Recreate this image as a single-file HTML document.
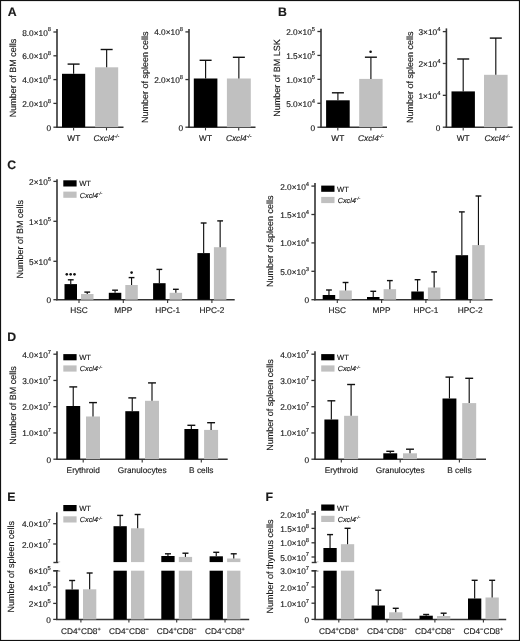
<!DOCTYPE html>
<html><head><meta charset="utf-8"><title>Figure</title>
<style>
html,body{margin:0;padding:0;background:#fff;}
body{width:520px;height:641px;overflow:hidden;}
svg{display:block;will-change:transform;}
text{font-family:"Liberation Sans", sans-serif;fill:#1a1a1a;stroke:#1a1a1a;stroke-width:0.15px;text-rendering:geometricPrecision;}
</style></head><body>
<svg width="520" height="641" viewBox="0 0 520 641">
<rect x="0" y="0" width="520" height="641" fill="#fff"/>
<text x="7.8" y="16" font-size="12.3" text-anchor="start" font-weight="bold">A</text>
<line x1="57" y1="29" x2="57" y2="127.8" stroke="#333" stroke-width="1.6"/>
<line x1="56.2" y1="127.2" x2="123.5" y2="127.2" stroke="#333" stroke-width="1.5"/>
<line x1="53.4" y1="32" x2="57" y2="32" stroke="#333" stroke-width="1.3"/>
<text x="51" y="35.5" font-size="8.3" text-anchor="end">8.0×10<tspan font-size="5.8" dy="-4.1">8</tspan></text>
<line x1="53.4" y1="55.8" x2="57" y2="55.8" stroke="#333" stroke-width="1.3"/>
<text x="51" y="59.3" font-size="8.3" text-anchor="end">6.0×10<tspan font-size="5.8" dy="-4.1">8</tspan></text>
<line x1="53.4" y1="79.6" x2="57" y2="79.6" stroke="#333" stroke-width="1.3"/>
<text x="51" y="83.1" font-size="8.3" text-anchor="end">4.0×10<tspan font-size="5.8" dy="-4.1">8</tspan></text>
<line x1="53.4" y1="103.4" x2="57" y2="103.4" stroke="#333" stroke-width="1.3"/>
<text x="51" y="106.9" font-size="8.3" text-anchor="end">2.0×10<tspan font-size="5.8" dy="-4.1">8</tspan></text>
<line x1="53.4" y1="127.2" x2="57" y2="127.2" stroke="#333" stroke-width="1.3"/>
<text x="51" y="130.7" font-size="8.3" text-anchor="end">0</text>
<line x1="73.6" y1="127.2" x2="73.6" y2="130.4" stroke="#333" stroke-width="1.1"/>
<line x1="106.5" y1="127.2" x2="106.5" y2="130.4" stroke="#333" stroke-width="1.1"/>
<rect x="62" y="73.8" width="23.2" height="53.4" fill="#000"/>
<line x1="73.6" y1="64.1" x2="73.6" y2="73.8" stroke="#111" stroke-width="1.15"/>
<line x1="67.6" y1="64.1" x2="79.6" y2="64.1" stroke="#111" stroke-width="1.4"/>
<rect x="95.1" y="67.3" width="23.1" height="59.9" fill="#c0c0c0"/>
<line x1="106.65" y1="49.5" x2="106.65" y2="67.3" stroke="#111" stroke-width="1.15"/>
<line x1="100.65" y1="49.5" x2="112.65" y2="49.5" stroke="#111" stroke-width="1.4"/>
<text x="73.8" y="140.8" font-size="8.3" text-anchor="middle">WT</text>
<text x="93.6" y="140.8" font-size="8.3" text-anchor="start"><tspan font-style="italic">Cxcl4</tspan><tspan font-style="italic" font-size="5.15" dy="-2.99">-/-</tspan></text>
<text transform="translate(15.7 78) rotate(-90)" x="0" y="0" font-size="9" text-anchor="middle">Number of BM cells</text>
<line x1="189" y1="29" x2="189" y2="127.8" stroke="#333" stroke-width="1.6"/>
<line x1="188.2" y1="127.2" x2="255.5" y2="127.2" stroke="#333" stroke-width="1.5"/>
<line x1="185.4" y1="31.9" x2="189" y2="31.9" stroke="#333" stroke-width="1.3"/>
<text x="183" y="35.4" font-size="8.3" text-anchor="end">4.0×10<tspan font-size="5.8" dy="-4.1">8</tspan></text>
<line x1="185.4" y1="79.55" x2="189" y2="79.55" stroke="#333" stroke-width="1.3"/>
<text x="183" y="83.05" font-size="8.3" text-anchor="end">2.0×10<tspan font-size="5.8" dy="-4.1">8</tspan></text>
<line x1="185.4" y1="127.2" x2="189" y2="127.2" stroke="#333" stroke-width="1.3"/>
<text x="183" y="130.7" font-size="8.3" text-anchor="end">0</text>
<line x1="205.5" y1="127.2" x2="205.5" y2="130.4" stroke="#333" stroke-width="1.1"/>
<line x1="238.7" y1="127.2" x2="238.7" y2="130.4" stroke="#333" stroke-width="1.1"/>
<rect x="193.8" y="78.5" width="23.6" height="48.7" fill="#000"/>
<line x1="205.6" y1="60.3" x2="205.6" y2="78.5" stroke="#111" stroke-width="1.15"/>
<line x1="199.6" y1="60.3" x2="211.6" y2="60.3" stroke="#111" stroke-width="1.4"/>
<rect x="226.9" y="78.5" width="23.9" height="48.7" fill="#c0c0c0"/>
<line x1="238.85" y1="57.3" x2="238.85" y2="78.5" stroke="#111" stroke-width="1.15"/>
<line x1="232.85" y1="57.3" x2="244.85" y2="57.3" stroke="#111" stroke-width="1.4"/>
<text x="205.5" y="140.8" font-size="8.3" text-anchor="middle">WT</text>
<text x="225.9" y="140.8" font-size="8.3" text-anchor="start"><tspan font-style="italic">Cxcl4</tspan><tspan font-style="italic" font-size="5.15" dy="-2.99">-/-</tspan></text>
<text transform="translate(148 77.3) rotate(-90)" x="0" y="0" font-size="9" text-anchor="middle">Number of spleen cells</text>
<text x="278" y="16" font-size="12.3" text-anchor="start" font-weight="bold">B</text>
<line x1="321" y1="28.8" x2="321" y2="127.8" stroke="#333" stroke-width="1.6"/>
<line x1="320.2" y1="127.2" x2="387" y2="127.2" stroke="#333" stroke-width="1.5"/>
<line x1="317.4" y1="31.5" x2="321" y2="31.5" stroke="#333" stroke-width="1.3"/>
<text x="315" y="35" font-size="8.3" text-anchor="end">2.0×10<tspan font-size="5.8" dy="-4.1">5</tspan></text>
<line x1="317.4" y1="55.42" x2="321" y2="55.42" stroke="#333" stroke-width="1.3"/>
<text x="315" y="58.92" font-size="8.3" text-anchor="end">1.5×10<tspan font-size="5.8" dy="-4.1">5</tspan></text>
<line x1="317.4" y1="79.35" x2="321" y2="79.35" stroke="#333" stroke-width="1.3"/>
<text x="315" y="82.85" font-size="8.3" text-anchor="end">1.0×10<tspan font-size="5.8" dy="-4.1">5</tspan></text>
<line x1="317.4" y1="103.28" x2="321" y2="103.28" stroke="#333" stroke-width="1.3"/>
<text x="315" y="106.78" font-size="8.3" text-anchor="end">5.0×10<tspan font-size="5.8" dy="-4.1">4</tspan></text>
<line x1="317.4" y1="127.2" x2="321" y2="127.2" stroke="#333" stroke-width="1.3"/>
<text x="315" y="130.7" font-size="8.3" text-anchor="end">0</text>
<line x1="337.8" y1="127.2" x2="337.8" y2="130.4" stroke="#333" stroke-width="1.1"/>
<line x1="370.9" y1="127.2" x2="370.9" y2="130.4" stroke="#333" stroke-width="1.1"/>
<rect x="326.1" y="100.3" width="23.6" height="26.9" fill="#000"/>
<line x1="337.9" y1="92.8" x2="337.9" y2="100.3" stroke="#111" stroke-width="1.15"/>
<line x1="331.9" y1="92.8" x2="343.9" y2="92.8" stroke="#111" stroke-width="1.4"/>
<rect x="359.2" y="78.9" width="23.4" height="48.3" fill="#c0c0c0"/>
<line x1="370.9" y1="57.2" x2="370.9" y2="78.9" stroke="#111" stroke-width="1.15"/>
<line x1="364.9" y1="57.2" x2="376.9" y2="57.2" stroke="#111" stroke-width="1.4"/>
<text x="337.8" y="140.8" font-size="8.3" text-anchor="middle">WT</text>
<text x="358" y="140.8" font-size="8.3" text-anchor="start"><tspan font-style="italic">Cxcl4</tspan><tspan font-style="italic" font-size="5.15" dy="-2.99">-/-</tspan></text>
<circle cx="370.6" cy="51.8" r="1.3" fill="#111"/>
<text transform="translate(280.3 77.9) rotate(-90)" x="0" y="0" font-size="9" text-anchor="middle">Number of BM LSK</text>
<line x1="446.4" y1="28.4" x2="446.4" y2="127.8" stroke="#333" stroke-width="1.6"/>
<line x1="445.6" y1="127.2" x2="512.6" y2="127.2" stroke="#333" stroke-width="1.5"/>
<line x1="442.8" y1="31.6" x2="446.4" y2="31.6" stroke="#333" stroke-width="1.3"/>
<text x="440.4" y="35.1" font-size="8.3" text-anchor="end">3×10<tspan font-size="5.8" dy="-4.1">4</tspan></text>
<line x1="442.8" y1="63.47" x2="446.4" y2="63.47" stroke="#333" stroke-width="1.3"/>
<text x="440.4" y="66.97" font-size="8.3" text-anchor="end">2×10<tspan font-size="5.8" dy="-4.1">4</tspan></text>
<line x1="442.8" y1="95.33" x2="446.4" y2="95.33" stroke="#333" stroke-width="1.3"/>
<text x="440.4" y="98.83" font-size="8.3" text-anchor="end">1×10<tspan font-size="5.8" dy="-4.1">4</tspan></text>
<line x1="442.8" y1="127.2" x2="446.4" y2="127.2" stroke="#333" stroke-width="1.3"/>
<text x="440.4" y="130.7" font-size="8.3" text-anchor="end">0</text>
<line x1="463.2" y1="127.2" x2="463.2" y2="130.4" stroke="#333" stroke-width="1.1"/>
<line x1="495.8" y1="127.2" x2="495.8" y2="130.4" stroke="#333" stroke-width="1.1"/>
<rect x="451.5" y="91.4" width="23.4" height="35.8" fill="#000"/>
<line x1="463.2" y1="59" x2="463.2" y2="91.4" stroke="#111" stroke-width="1.15"/>
<line x1="457.2" y1="59" x2="469.2" y2="59" stroke="#111" stroke-width="1.4"/>
<rect x="484" y="74.8" width="23.6" height="52.4" fill="#c0c0c0"/>
<line x1="495.8" y1="38.1" x2="495.8" y2="74.8" stroke="#111" stroke-width="1.15"/>
<line x1="489.8" y1="38.1" x2="501.8" y2="38.1" stroke="#111" stroke-width="1.4"/>
<text x="463.2" y="140.8" font-size="8.3" text-anchor="middle">WT</text>
<text x="484.4" y="140.8" font-size="8.3" text-anchor="start"><tspan font-style="italic">Cxcl4</tspan><tspan font-style="italic" font-size="5.15" dy="-2.99">-/-</tspan></text>
<text transform="translate(412.6 77.2) rotate(-90)" x="0" y="0" font-size="9" text-anchor="middle">Number of spleen cells</text>
<text x="7.2" y="168.8" font-size="12.3" text-anchor="start" font-weight="bold">C</text>
<line x1="57" y1="179.2" x2="57" y2="300.3" stroke="#333" stroke-width="1.6"/>
<line x1="56.2" y1="299.7" x2="234.7" y2="299.7" stroke="#333" stroke-width="1.5"/>
<line x1="53.4" y1="181.4" x2="57" y2="181.4" stroke="#333" stroke-width="1.3"/>
<text x="51" y="184.9" font-size="8.3" text-anchor="end">2×10<tspan font-size="5.8" dy="-4.1">5</tspan></text>
<line x1="53.4" y1="221.3" x2="57" y2="221.3" stroke="#333" stroke-width="1.3"/>
<text x="51" y="224.8" font-size="8.3" text-anchor="end">1×10<tspan font-size="5.8" dy="-4.1">5</tspan></text>
<line x1="53.4" y1="261.3" x2="57" y2="261.3" stroke="#333" stroke-width="1.3"/>
<text x="51" y="264.8" font-size="8.3" text-anchor="end">5×10<tspan font-size="5.8" dy="-4.1">4</tspan></text>
<line x1="53.4" y1="299.7" x2="57" y2="299.7" stroke="#333" stroke-width="1.3"/>
<text x="51" y="303.2" font-size="8.3" text-anchor="end">0</text>
<line x1="79" y1="299.7" x2="79" y2="302.9" stroke="#333" stroke-width="1.1"/>
<line x1="123.3" y1="299.7" x2="123.3" y2="302.9" stroke="#333" stroke-width="1.1"/>
<line x1="167.6" y1="299.7" x2="167.6" y2="302.9" stroke="#333" stroke-width="1.1"/>
<line x1="211.9" y1="299.7" x2="211.9" y2="302.9" stroke="#333" stroke-width="1.1"/>
<rect x="64.5" y="284.1" width="12.5" height="15.6" fill="#000"/>
<line x1="70.75" y1="279.8" x2="70.75" y2="284.1" stroke="#111" stroke-width="1.15"/>
<line x1="67.85" y1="279.8" x2="73.65" y2="279.8" stroke="#111" stroke-width="1.4"/>
<rect x="81" y="294" width="12.5" height="5.7" fill="#c0c0c0"/>
<line x1="87.25" y1="292.1" x2="87.25" y2="294" stroke="#111" stroke-width="1.15"/>
<line x1="84.35" y1="292.1" x2="90.15" y2="292.1" stroke="#111" stroke-width="1.4"/>
<rect x="108.8" y="292.8" width="12.5" height="6.9" fill="#000"/>
<line x1="115.05" y1="290.2" x2="115.05" y2="292.8" stroke="#111" stroke-width="1.15"/>
<line x1="112.15" y1="290.2" x2="117.95" y2="290.2" stroke="#111" stroke-width="1.4"/>
<rect x="125.3" y="285" width="12.5" height="14.7" fill="#c0c0c0"/>
<line x1="131.55" y1="277.6" x2="131.55" y2="285" stroke="#111" stroke-width="1.15"/>
<line x1="128.65" y1="277.6" x2="134.45" y2="277.6" stroke="#111" stroke-width="1.4"/>
<rect x="153.1" y="283.2" width="12.5" height="16.5" fill="#000"/>
<line x1="159.35" y1="269.4" x2="159.35" y2="283.2" stroke="#111" stroke-width="1.15"/>
<line x1="156.45" y1="269.4" x2="162.25" y2="269.4" stroke="#111" stroke-width="1.4"/>
<rect x="169.6" y="292.8" width="12.5" height="6.9" fill="#c0c0c0"/>
<line x1="175.85" y1="289.3" x2="175.85" y2="292.8" stroke="#111" stroke-width="1.15"/>
<line x1="172.95" y1="289.3" x2="178.75" y2="289.3" stroke="#111" stroke-width="1.4"/>
<rect x="197.4" y="253.1" width="12.5" height="46.6" fill="#000"/>
<line x1="203.65" y1="223" x2="203.65" y2="253.1" stroke="#111" stroke-width="1.15"/>
<line x1="200.75" y1="223" x2="206.55" y2="223" stroke="#111" stroke-width="1.4"/>
<rect x="213.9" y="247.2" width="12.5" height="52.5" fill="#c0c0c0"/>
<line x1="220.15" y1="220.9" x2="220.15" y2="247.2" stroke="#111" stroke-width="1.15"/>
<line x1="217.25" y1="220.9" x2="223.05" y2="220.9" stroke="#111" stroke-width="1.4"/>
<text x="79" y="313.4" font-size="8.3" text-anchor="middle">HSC</text>
<text x="123.3" y="313.4" font-size="8.3" text-anchor="middle">MPP</text>
<text x="167.6" y="313.4" font-size="8.3" text-anchor="middle">HPC-1</text>
<text x="211.9" y="313.4" font-size="8.3" text-anchor="middle">HPC-2</text>
<circle cx="66.8" cy="274.35" r="1.3" fill="#111"/>
<circle cx="70.65" cy="274.35" r="1.3" fill="#111"/>
<circle cx="74.5" cy="274.35" r="1.3" fill="#111"/>
<circle cx="131.6" cy="272.6" r="1.3" fill="#111"/>
<rect x="63.3" y="180.3" width="13.3" height="6.2" fill="#000"/>
<text x="79.2" y="186.3" font-size="7.6" text-anchor="start">WT</text>
<rect x="63.3" y="191.6" width="13.3" height="6.2" fill="#c0c0c0"/>
<text x="79.8" y="197.6" font-size="7.3" text-anchor="start"><tspan font-style="italic">Cxcl4</tspan><tspan font-style="italic" font-size="4.53" dy="-2.63">-/-</tspan></text>
<text transform="translate(23 239.2) rotate(-90)" x="0" y="0" font-size="9" text-anchor="middle">Number of BM cells</text>
<line x1="315" y1="183.1" x2="315" y2="300.3" stroke="#333" stroke-width="1.6"/>
<line x1="314.2" y1="299.7" x2="492.6" y2="299.7" stroke="#333" stroke-width="1.5"/>
<line x1="311.4" y1="186.1" x2="315" y2="186.1" stroke="#333" stroke-width="1.3"/>
<text x="309" y="189.6" font-size="8.3" text-anchor="end">2.0×10<tspan font-size="5.8" dy="-4.1">4</tspan></text>
<line x1="311.4" y1="214.5" x2="315" y2="214.5" stroke="#333" stroke-width="1.3"/>
<text x="309" y="218" font-size="8.3" text-anchor="end">1.5×10<tspan font-size="5.8" dy="-4.1">4</tspan></text>
<line x1="311.4" y1="242.9" x2="315" y2="242.9" stroke="#333" stroke-width="1.3"/>
<text x="309" y="246.4" font-size="8.3" text-anchor="end">1.0×10<tspan font-size="5.8" dy="-4.1">4</tspan></text>
<line x1="311.4" y1="271.3" x2="315" y2="271.3" stroke="#333" stroke-width="1.3"/>
<text x="309" y="274.8" font-size="8.3" text-anchor="end">5.0×10<tspan font-size="5.8" dy="-4.1">3</tspan></text>
<line x1="311.4" y1="299.7" x2="315" y2="299.7" stroke="#333" stroke-width="1.3"/>
<text x="309" y="303.2" font-size="8.3" text-anchor="end">0</text>
<line x1="337.3" y1="299.7" x2="337.3" y2="302.9" stroke="#333" stroke-width="1.1"/>
<line x1="381.6" y1="299.7" x2="381.6" y2="302.9" stroke="#333" stroke-width="1.1"/>
<line x1="425.9" y1="299.7" x2="425.9" y2="302.9" stroke="#333" stroke-width="1.1"/>
<line x1="470.2" y1="299.7" x2="470.2" y2="302.9" stroke="#333" stroke-width="1.1"/>
<rect x="322.7" y="295" width="12.5" height="4.7" fill="#000"/>
<line x1="328.95" y1="290" x2="328.95" y2="295" stroke="#111" stroke-width="1.15"/>
<line x1="326.05" y1="290" x2="331.85" y2="290" stroke="#111" stroke-width="1.4"/>
<rect x="339.3" y="290.5" width="12.5" height="9.2" fill="#c0c0c0"/>
<line x1="345.55" y1="282.5" x2="345.55" y2="290.5" stroke="#111" stroke-width="1.15"/>
<line x1="342.65" y1="282.5" x2="348.45" y2="282.5" stroke="#111" stroke-width="1.4"/>
<rect x="367" y="297" width="12.5" height="2.7" fill="#000"/>
<line x1="373.25" y1="291.3" x2="373.25" y2="297" stroke="#111" stroke-width="1.15"/>
<line x1="370.35" y1="291.3" x2="376.15" y2="291.3" stroke="#111" stroke-width="1.4"/>
<rect x="383.6" y="289.2" width="12.5" height="10.5" fill="#c0c0c0"/>
<line x1="389.85" y1="280.6" x2="389.85" y2="289.2" stroke="#111" stroke-width="1.15"/>
<line x1="386.95" y1="280.6" x2="392.75" y2="280.6" stroke="#111" stroke-width="1.4"/>
<rect x="411.3" y="291.5" width="12.5" height="8.2" fill="#000"/>
<line x1="417.55" y1="279.7" x2="417.55" y2="291.5" stroke="#111" stroke-width="1.15"/>
<line x1="414.65" y1="279.7" x2="420.45" y2="279.7" stroke="#111" stroke-width="1.4"/>
<rect x="427.9" y="287.5" width="12.5" height="12.2" fill="#c0c0c0"/>
<line x1="434.15" y1="271.9" x2="434.15" y2="287.5" stroke="#111" stroke-width="1.15"/>
<line x1="431.25" y1="271.9" x2="437.05" y2="271.9" stroke="#111" stroke-width="1.4"/>
<rect x="455.6" y="255.2" width="12.5" height="44.5" fill="#000"/>
<line x1="461.85" y1="211.9" x2="461.85" y2="255.2" stroke="#111" stroke-width="1.15"/>
<line x1="458.95" y1="211.9" x2="464.75" y2="211.9" stroke="#111" stroke-width="1.4"/>
<rect x="472.2" y="245.1" width="12.5" height="54.6" fill="#c0c0c0"/>
<line x1="478.45" y1="196" x2="478.45" y2="245.1" stroke="#111" stroke-width="1.15"/>
<line x1="475.55" y1="196" x2="481.35" y2="196" stroke="#111" stroke-width="1.4"/>
<text x="337.3" y="313.4" font-size="8.3" text-anchor="middle">HSC</text>
<text x="381.6" y="313.4" font-size="8.3" text-anchor="middle">MPP</text>
<text x="425.9" y="313.4" font-size="8.3" text-anchor="middle">HPC-1</text>
<text x="470.2" y="313.4" font-size="8.3" text-anchor="middle">HPC-2</text>
<rect x="321.2" y="185.6" width="13.3" height="6.2" fill="#000"/>
<text x="337.1" y="191.6" font-size="7.6" text-anchor="start">WT</text>
<rect x="321.2" y="196.9" width="13.3" height="6.2" fill="#c0c0c0"/>
<text x="337.7" y="202.9" font-size="7.3" text-anchor="start"><tspan font-style="italic">Cxcl4</tspan><tspan font-style="italic" font-size="4.53" dy="-2.63">-/-</tspan></text>
<text transform="translate(273 241.2) rotate(-90)" x="0" y="0" font-size="9" text-anchor="middle">Number of spleen cells</text>
<text x="7.3" y="341.2" font-size="12.3" text-anchor="start" font-weight="bold">D</text>
<line x1="57" y1="351.2" x2="57" y2="459.8" stroke="#333" stroke-width="1.6"/>
<line x1="56.2" y1="459.2" x2="227.7" y2="459.2" stroke="#333" stroke-width="1.5"/>
<line x1="53.4" y1="354.2" x2="57" y2="354.2" stroke="#333" stroke-width="1.3"/>
<text x="51" y="357.7" font-size="8.3" text-anchor="end">4.0×10<tspan font-size="5.8" dy="-4.1">7</tspan></text>
<line x1="53.4" y1="380.45" x2="57" y2="380.45" stroke="#333" stroke-width="1.3"/>
<text x="51" y="383.95" font-size="8.3" text-anchor="end">3.0×10<tspan font-size="5.8" dy="-4.1">7</tspan></text>
<line x1="53.4" y1="406.7" x2="57" y2="406.7" stroke="#333" stroke-width="1.3"/>
<text x="51" y="410.2" font-size="8.3" text-anchor="end">2.0×10<tspan font-size="5.8" dy="-4.1">7</tspan></text>
<line x1="53.4" y1="432.95" x2="57" y2="432.95" stroke="#333" stroke-width="1.3"/>
<text x="51" y="436.45" font-size="8.3" text-anchor="end">1.0×10<tspan font-size="5.8" dy="-4.1">7</tspan></text>
<line x1="53.4" y1="459.2" x2="57" y2="459.2" stroke="#333" stroke-width="1.3"/>
<text x="51" y="462.7" font-size="8.3" text-anchor="end">0</text>
<line x1="83.2" y1="459.2" x2="83.2" y2="462.4" stroke="#333" stroke-width="1.1"/>
<line x1="142.2" y1="459.2" x2="142.2" y2="462.4" stroke="#333" stroke-width="1.1"/>
<line x1="201.3" y1="459.2" x2="201.3" y2="462.4" stroke="#333" stroke-width="1.1"/>
<rect x="66.3" y="406" width="13.9" height="53.2" fill="#000"/>
<line x1="73.25" y1="386.9" x2="73.25" y2="406" stroke="#111" stroke-width="1.15"/>
<line x1="69.3" y1="386.9" x2="77.2" y2="386.9" stroke="#111" stroke-width="1.4"/>
<rect x="86" y="416.5" width="14" height="42.7" fill="#c0c0c0"/>
<line x1="93" y1="402.6" x2="93" y2="416.5" stroke="#111" stroke-width="1.15"/>
<line x1="89.05" y1="402.6" x2="96.95" y2="402.6" stroke="#111" stroke-width="1.4"/>
<rect x="125.3" y="411.2" width="13.9" height="48" fill="#000"/>
<line x1="132.25" y1="397.9" x2="132.25" y2="411.2" stroke="#111" stroke-width="1.15"/>
<line x1="128.3" y1="397.9" x2="136.2" y2="397.9" stroke="#111" stroke-width="1.4"/>
<rect x="145" y="400.8" width="14" height="58.4" fill="#c0c0c0"/>
<line x1="152" y1="382.9" x2="152" y2="400.8" stroke="#111" stroke-width="1.15"/>
<line x1="148.05" y1="382.9" x2="155.95" y2="382.9" stroke="#111" stroke-width="1.4"/>
<rect x="184.4" y="429" width="13.9" height="30.2" fill="#000"/>
<line x1="191.35" y1="425.3" x2="191.35" y2="429" stroke="#111" stroke-width="1.15"/>
<line x1="187.4" y1="425.3" x2="195.3" y2="425.3" stroke="#111" stroke-width="1.4"/>
<rect x="204.1" y="429.9" width="14" height="29.3" fill="#c0c0c0"/>
<line x1="211.1" y1="422.7" x2="211.1" y2="429.9" stroke="#111" stroke-width="1.15"/>
<line x1="207.15" y1="422.7" x2="215.05" y2="422.7" stroke="#111" stroke-width="1.4"/>
<text x="83.2" y="473.2" font-size="8.3" text-anchor="middle">Erythroid</text>
<text x="142.2" y="473.2" font-size="8.3" text-anchor="middle">Granulocytes</text>
<text x="201.3" y="473.2" font-size="8.3" text-anchor="middle">B cells</text>
<rect x="63.3" y="354.1" width="13.3" height="6.2" fill="#000"/>
<text x="79.2" y="360.1" font-size="7.6" text-anchor="start">WT</text>
<rect x="63.3" y="365.4" width="13.3" height="6.2" fill="#c0c0c0"/>
<text x="79.8" y="371.4" font-size="7.3" text-anchor="start"><tspan font-style="italic">Cxcl4</tspan><tspan font-style="italic" font-size="4.53" dy="-2.63">-/-</tspan></text>
<text transform="translate(15.5 405.5) rotate(-90)" x="0" y="0" font-size="9" text-anchor="middle">Number of BM cells</text>
<line x1="315" y1="351.2" x2="315" y2="459.8" stroke="#333" stroke-width="1.6"/>
<line x1="314.2" y1="459.2" x2="486" y2="459.2" stroke="#333" stroke-width="1.5"/>
<line x1="311.4" y1="354.2" x2="315" y2="354.2" stroke="#333" stroke-width="1.3"/>
<text x="309" y="357.7" font-size="8.3" text-anchor="end">4.0×10<tspan font-size="5.8" dy="-4.1">7</tspan></text>
<line x1="311.4" y1="380.45" x2="315" y2="380.45" stroke="#333" stroke-width="1.3"/>
<text x="309" y="383.95" font-size="8.3" text-anchor="end">3.0×10<tspan font-size="5.8" dy="-4.1">7</tspan></text>
<line x1="311.4" y1="406.7" x2="315" y2="406.7" stroke="#333" stroke-width="1.3"/>
<text x="309" y="410.2" font-size="8.3" text-anchor="end">2.0×10<tspan font-size="5.8" dy="-4.1">7</tspan></text>
<line x1="311.4" y1="432.95" x2="315" y2="432.95" stroke="#333" stroke-width="1.3"/>
<text x="309" y="436.45" font-size="8.3" text-anchor="end">1.0×10<tspan font-size="5.8" dy="-4.1">7</tspan></text>
<line x1="311.4" y1="459.2" x2="315" y2="459.2" stroke="#333" stroke-width="1.3"/>
<text x="309" y="462.7" font-size="8.3" text-anchor="end">0</text>
<line x1="341.3" y1="459.2" x2="341.3" y2="462.4" stroke="#333" stroke-width="1.1"/>
<line x1="400.2" y1="459.2" x2="400.2" y2="462.4" stroke="#333" stroke-width="1.1"/>
<line x1="459.4" y1="459.2" x2="459.4" y2="462.4" stroke="#333" stroke-width="1.1"/>
<rect x="324.4" y="419.5" width="13.9" height="39.7" fill="#000"/>
<line x1="331.35" y1="400.8" x2="331.35" y2="419.5" stroke="#111" stroke-width="1.15"/>
<line x1="327.4" y1="400.8" x2="335.3" y2="400.8" stroke="#111" stroke-width="1.4"/>
<rect x="344.1" y="415.8" width="14" height="43.4" fill="#c0c0c0"/>
<line x1="351.1" y1="384.5" x2="351.1" y2="415.8" stroke="#111" stroke-width="1.15"/>
<line x1="347.15" y1="384.5" x2="355.05" y2="384.5" stroke="#111" stroke-width="1.4"/>
<rect x="383.3" y="453.3" width="13.9" height="5.9" fill="#000"/>
<line x1="390.25" y1="451.3" x2="390.25" y2="453.3" stroke="#111" stroke-width="1.15"/>
<line x1="386.3" y1="451.3" x2="394.2" y2="451.3" stroke="#111" stroke-width="1.4"/>
<rect x="403" y="453.3" width="14" height="5.9" fill="#c0c0c0"/>
<line x1="410" y1="449.2" x2="410" y2="453.3" stroke="#111" stroke-width="1.15"/>
<line x1="406.05" y1="449.2" x2="413.95" y2="449.2" stroke="#111" stroke-width="1.4"/>
<rect x="442.5" y="398.5" width="13.9" height="60.7" fill="#000"/>
<line x1="449.45" y1="377.1" x2="449.45" y2="398.5" stroke="#111" stroke-width="1.15"/>
<line x1="445.5" y1="377.1" x2="453.4" y2="377.1" stroke="#111" stroke-width="1.4"/>
<rect x="462.2" y="403.1" width="14" height="56.1" fill="#c0c0c0"/>
<line x1="469.2" y1="378.3" x2="469.2" y2="403.1" stroke="#111" stroke-width="1.15"/>
<line x1="465.25" y1="378.3" x2="473.15" y2="378.3" stroke="#111" stroke-width="1.4"/>
<text x="341.3" y="473.2" font-size="8.3" text-anchor="middle">Erythroid</text>
<text x="400.2" y="473.2" font-size="8.3" text-anchor="middle">Granulocytes</text>
<text x="459.4" y="473.2" font-size="8.3" text-anchor="middle">B cells</text>
<rect x="321.2" y="354.1" width="13.3" height="6.2" fill="#000"/>
<text x="337.1" y="360.1" font-size="7.6" text-anchor="start">WT</text>
<rect x="321.2" y="365.4" width="13.3" height="6.2" fill="#c0c0c0"/>
<text x="337.7" y="371.4" font-size="7.3" text-anchor="start"><tspan font-style="italic">Cxcl4</tspan><tspan font-style="italic" font-size="4.53" dy="-2.63">-/-</tspan></text>
<text transform="translate(272.6 405) rotate(-90)" x="0" y="0" font-size="9" text-anchor="middle">Number of spleen cells</text>
<text x="7.3" y="501" font-size="12.3" text-anchor="start" font-weight="bold">E</text>
<line x1="56.8" y1="512.2" x2="56.8" y2="562.5" stroke="#333" stroke-width="1.6"/>
<line x1="56.8" y1="570.7" x2="56.8" y2="620" stroke="#333" stroke-width="1.6"/>
<line x1="56" y1="619.4" x2="249.2" y2="619.4" stroke="#333" stroke-width="1.5"/>
<line x1="53.2" y1="523.7" x2="56.8" y2="523.7" stroke="#333" stroke-width="1.3"/>
<text x="50.8" y="527.2" font-size="8.3" text-anchor="end">4.0×10<tspan font-size="5.8" dy="-4.1">7</tspan></text>
<line x1="53.2" y1="544" x2="56.8" y2="544" stroke="#333" stroke-width="1.3"/>
<text x="50.8" y="547.5" font-size="8.3" text-anchor="end">2.0×10<tspan font-size="5.8" dy="-4.1">7</tspan></text>
<line x1="53.2" y1="570.9" x2="56.8" y2="570.9" stroke="#333" stroke-width="1.3"/>
<text x="50.8" y="574.4" font-size="8.3" text-anchor="end">6×10<tspan font-size="5.8" dy="-4.1">5</tspan></text>
<line x1="53.2" y1="587" x2="56.8" y2="587" stroke="#333" stroke-width="1.3"/>
<text x="50.8" y="590.5" font-size="8.3" text-anchor="end">4×10<tspan font-size="5.8" dy="-4.1">5</tspan></text>
<line x1="53.2" y1="603.4" x2="56.8" y2="603.4" stroke="#333" stroke-width="1.3"/>
<text x="50.8" y="606.9" font-size="8.3" text-anchor="end">2×10<tspan font-size="5.8" dy="-4.1">5</tspan></text>
<line x1="53.2" y1="619.4" x2="56.8" y2="619.4" stroke="#333" stroke-width="1.3"/>
<text x="50.8" y="622.9" font-size="8.3" text-anchor="end">0</text>
<line x1="80.9" y1="619.4" x2="80.9" y2="622.6" stroke="#333" stroke-width="1.1"/>
<line x1="128.9" y1="619.4" x2="128.9" y2="622.6" stroke="#333" stroke-width="1.1"/>
<line x1="176.7" y1="619.4" x2="176.7" y2="622.6" stroke="#333" stroke-width="1.1"/>
<line x1="225" y1="619.4" x2="225" y2="622.6" stroke="#333" stroke-width="1.1"/>
<line x1="53.4" y1="562.5" x2="60.2" y2="562.5" stroke="#333" stroke-width="1.4"/>
<line x1="53.4" y1="570.7" x2="60.2" y2="570.7" stroke="#333" stroke-width="1.4"/>
<rect x="65.5" y="589.5" width="13.3" height="29.9" fill="#000"/>
<line x1="72.15" y1="580.5" x2="72.15" y2="589.5" stroke="#111" stroke-width="1.15"/>
<line x1="69.15" y1="580.5" x2="75.15" y2="580.5" stroke="#111" stroke-width="1.4"/>
<rect x="83" y="589.3" width="13.3" height="30.1" fill="#c0c0c0"/>
<line x1="89.65" y1="573" x2="89.65" y2="589.3" stroke="#111" stroke-width="1.15"/>
<line x1="86.65" y1="573" x2="92.65" y2="573" stroke="#111" stroke-width="1.4"/>
<rect x="113.5" y="526.2" width="13.3" height="93.2" fill="#000"/>
<line x1="120.15" y1="515.4" x2="120.15" y2="526.2" stroke="#111" stroke-width="1.15"/>
<line x1="117.15" y1="515.4" x2="123.15" y2="515.4" stroke="#111" stroke-width="1.4"/>
<rect x="131" y="528.3" width="13.3" height="91.1" fill="#c0c0c0"/>
<line x1="137.65" y1="514.5" x2="137.65" y2="528.3" stroke="#111" stroke-width="1.15"/>
<line x1="134.65" y1="514.5" x2="140.65" y2="514.5" stroke="#111" stroke-width="1.4"/>
<rect x="161.3" y="556" width="13.3" height="63.4" fill="#000"/>
<line x1="167.95" y1="553.8" x2="167.95" y2="556" stroke="#111" stroke-width="1.15"/>
<line x1="164.95" y1="553.8" x2="170.95" y2="553.8" stroke="#111" stroke-width="1.4"/>
<rect x="178.8" y="556.9" width="13.3" height="62.5" fill="#c0c0c0"/>
<line x1="185.45" y1="553.2" x2="185.45" y2="556.9" stroke="#111" stroke-width="1.15"/>
<line x1="182.45" y1="553.2" x2="188.45" y2="553.2" stroke="#111" stroke-width="1.4"/>
<rect x="209.6" y="556.3" width="13.3" height="63.1" fill="#000"/>
<line x1="216.25" y1="552.3" x2="216.25" y2="556.3" stroke="#111" stroke-width="1.15"/>
<line x1="213.25" y1="552.3" x2="219.25" y2="552.3" stroke="#111" stroke-width="1.4"/>
<rect x="227.1" y="558.5" width="13.3" height="60.9" fill="#c0c0c0"/>
<line x1="233.75" y1="553.8" x2="233.75" y2="558.5" stroke="#111" stroke-width="1.15"/>
<line x1="230.75" y1="553.8" x2="236.75" y2="553.8" stroke="#111" stroke-width="1.4"/>
<rect x="58.3" y="562.1" width="192.4" height="8.6" fill="#fff"/>
<text x="80.9" y="633.6" font-size="8.3" text-anchor="middle">CD4<tspan font-size="5.6" dy="-2.9">+</tspan><tspan dy="2.9">CD8</tspan><tspan font-size="5.6" dy="-2.9">+</tspan></text>
<text x="128.9" y="633.6" font-size="8.3" text-anchor="middle">CD4<tspan font-size="5.6" dy="-2.9">−</tspan><tspan dy="2.9">CD8</tspan><tspan font-size="5.6" dy="-2.9">−</tspan></text>
<text x="176.7" y="633.6" font-size="8.3" text-anchor="middle">CD4<tspan font-size="5.6" dy="-2.9">+</tspan><tspan dy="2.9">CD8</tspan><tspan font-size="5.6" dy="-2.9">−</tspan></text>
<text x="225" y="633.6" font-size="8.3" text-anchor="middle">CD4<tspan font-size="5.6" dy="-2.9">−</tspan><tspan dy="2.9">CD8</tspan><tspan font-size="5.6" dy="-2.9">+</tspan></text>
<rect x="63.3" y="505" width="13.3" height="6.2" fill="#000"/>
<text x="79.2" y="511" font-size="7.6" text-anchor="start">WT</text>
<rect x="63.3" y="516.3" width="13.3" height="6.2" fill="#c0c0c0"/>
<text x="79.8" y="522.3" font-size="7.3" text-anchor="start"><tspan font-style="italic">Cxcl4</tspan><tspan font-style="italic" font-size="4.53" dy="-2.63">-/-</tspan></text>
<text transform="translate(14.2 566.7) rotate(-90)" x="0" y="0" font-size="9" text-anchor="middle">Number of spleen cells</text>
<text x="265.4" y="501" font-size="12.3" text-anchor="start" font-weight="bold">F</text>
<line x1="315.1" y1="511.1" x2="315.1" y2="562.5" stroke="#333" stroke-width="1.6"/>
<line x1="315.1" y1="570.7" x2="315.1" y2="620" stroke="#333" stroke-width="1.6"/>
<line x1="314.3" y1="619.4" x2="506.2" y2="619.4" stroke="#333" stroke-width="1.5"/>
<line x1="311.5" y1="514" x2="315.1" y2="514" stroke="#333" stroke-width="1.3"/>
<text x="309.1" y="517.5" font-size="8.3" text-anchor="end">2.0×10<tspan font-size="5.8" dy="-4.1">8</tspan></text>
<line x1="311.5" y1="528.4" x2="315.1" y2="528.4" stroke="#333" stroke-width="1.3"/>
<text x="309.1" y="531.9" font-size="8.3" text-anchor="end">1.5×10<tspan font-size="5.8" dy="-4.1">8</tspan></text>
<line x1="311.5" y1="542.8" x2="315.1" y2="542.8" stroke="#333" stroke-width="1.3"/>
<text x="309.1" y="546.3" font-size="8.3" text-anchor="end">1.0×10<tspan font-size="5.8" dy="-4.1">8</tspan></text>
<line x1="311.5" y1="557" x2="315.1" y2="557" stroke="#333" stroke-width="1.3"/>
<text x="309.1" y="560.5" font-size="8.3" text-anchor="end">5.0×10<tspan font-size="5.8" dy="-4.1">7</tspan></text>
<line x1="311.5" y1="570.9" x2="315.1" y2="570.9" stroke="#333" stroke-width="1.3"/>
<text x="309.1" y="574.4" font-size="8.3" text-anchor="end">3.0×10<tspan font-size="5.8" dy="-4.1">7</tspan></text>
<line x1="311.5" y1="587" x2="315.1" y2="587" stroke="#333" stroke-width="1.3"/>
<text x="309.1" y="590.5" font-size="8.3" text-anchor="end">2.0×10<tspan font-size="5.8" dy="-4.1">7</tspan></text>
<line x1="311.5" y1="603.2" x2="315.1" y2="603.2" stroke="#333" stroke-width="1.3"/>
<text x="309.1" y="606.7" font-size="8.3" text-anchor="end">1.0×10<tspan font-size="5.8" dy="-4.1">7</tspan></text>
<line x1="311.5" y1="619.4" x2="315.1" y2="619.4" stroke="#333" stroke-width="1.3"/>
<text x="309.1" y="622.9" font-size="8.3" text-anchor="end">0</text>
<line x1="338.8" y1="619.4" x2="338.8" y2="622.6" stroke="#333" stroke-width="1.1"/>
<line x1="387" y1="619.4" x2="387" y2="622.6" stroke="#333" stroke-width="1.1"/>
<line x1="434.9" y1="619.4" x2="434.9" y2="622.6" stroke="#333" stroke-width="1.1"/>
<line x1="483.4" y1="619.4" x2="483.4" y2="622.6" stroke="#333" stroke-width="1.1"/>
<line x1="311.7" y1="562.5" x2="318.5" y2="562.5" stroke="#333" stroke-width="1.4"/>
<line x1="311.7" y1="570.7" x2="318.5" y2="570.7" stroke="#333" stroke-width="1.4"/>
<rect x="323.4" y="548" width="13.3" height="71.4" fill="#000"/>
<line x1="330.05" y1="534.6" x2="330.05" y2="548" stroke="#111" stroke-width="1.15"/>
<line x1="327.05" y1="534.6" x2="333.05" y2="534.6" stroke="#111" stroke-width="1.4"/>
<rect x="340.9" y="544.2" width="13.3" height="75.2" fill="#c0c0c0"/>
<line x1="347.55" y1="528.3" x2="347.55" y2="544.2" stroke="#111" stroke-width="1.15"/>
<line x1="344.55" y1="528.3" x2="350.55" y2="528.3" stroke="#111" stroke-width="1.4"/>
<rect x="371.6" y="605.5" width="13.3" height="13.9" fill="#000"/>
<line x1="378.25" y1="590.2" x2="378.25" y2="605.5" stroke="#111" stroke-width="1.15"/>
<line x1="375.25" y1="590.2" x2="381.25" y2="590.2" stroke="#111" stroke-width="1.4"/>
<rect x="389.1" y="612.3" width="13.3" height="7.1" fill="#c0c0c0"/>
<line x1="395.75" y1="608.3" x2="395.75" y2="612.3" stroke="#111" stroke-width="1.15"/>
<line x1="392.75" y1="608.3" x2="398.75" y2="608.3" stroke="#111" stroke-width="1.4"/>
<rect x="419.5" y="615.7" width="13.3" height="3.7" fill="#000"/>
<line x1="426.15" y1="614.5" x2="426.15" y2="615.7" stroke="#111" stroke-width="1.15"/>
<line x1="423.15" y1="614.5" x2="429.15" y2="614.5" stroke="#111" stroke-width="1.4"/>
<rect x="437" y="616" width="13.3" height="3.4" fill="#c0c0c0"/>
<line x1="443.65" y1="613.2" x2="443.65" y2="616" stroke="#111" stroke-width="1.15"/>
<line x1="440.65" y1="613.2" x2="446.65" y2="613.2" stroke="#111" stroke-width="1.4"/>
<rect x="468" y="598.5" width="13.3" height="20.9" fill="#000"/>
<line x1="474.65" y1="580.3" x2="474.65" y2="598.5" stroke="#111" stroke-width="1.15"/>
<line x1="471.65" y1="580.3" x2="477.65" y2="580.3" stroke="#111" stroke-width="1.4"/>
<rect x="485.5" y="597.5" width="13.3" height="21.9" fill="#c0c0c0"/>
<line x1="492.15" y1="580.3" x2="492.15" y2="597.5" stroke="#111" stroke-width="1.15"/>
<line x1="489.15" y1="580.3" x2="495.15" y2="580.3" stroke="#111" stroke-width="1.4"/>
<rect x="316.6" y="562.1" width="191.1" height="8.6" fill="#fff"/>
<text x="338.8" y="633.6" font-size="8.3" text-anchor="middle">CD4<tspan font-size="5.6" dy="-2.9">+</tspan><tspan dy="2.9">CD8</tspan><tspan font-size="5.6" dy="-2.9">+</tspan></text>
<text x="387" y="633.6" font-size="8.3" text-anchor="middle">CD4<tspan font-size="5.6" dy="-2.9">−</tspan><tspan dy="2.9">CD8</tspan><tspan font-size="5.6" dy="-2.9">−</tspan></text>
<text x="434.9" y="633.6" font-size="8.3" text-anchor="middle">CD4<tspan font-size="5.6" dy="-2.9">+</tspan><tspan dy="2.9">CD8</tspan><tspan font-size="5.6" dy="-2.9">−</tspan></text>
<text x="483.4" y="633.6" font-size="8.3" text-anchor="middle">CD4<tspan font-size="5.6" dy="-2.9">−</tspan><tspan dy="2.9">CD8</tspan><tspan font-size="5.6" dy="-2.9">+</tspan></text>
<rect x="321.2" y="504.5" width="13.3" height="6.2" fill="#000"/>
<text x="337.1" y="510.5" font-size="7.6" text-anchor="start">WT</text>
<rect x="321.2" y="515.8" width="13.3" height="6.2" fill="#c0c0c0"/>
<text x="337.7" y="521.8" font-size="7.3" text-anchor="start"><tspan font-style="italic">Cxcl4</tspan><tspan font-style="italic" font-size="4.53" dy="-2.63">-/-</tspan></text>
<text transform="translate(272.8 566.4) rotate(-90)" x="0" y="0" font-size="9" text-anchor="middle">Number of thymus cells</text>
<rect x="0.5" y="0.5" width="519" height="640" fill="none" stroke="#111" stroke-width="1.2"/>
</svg>
</body></html>
